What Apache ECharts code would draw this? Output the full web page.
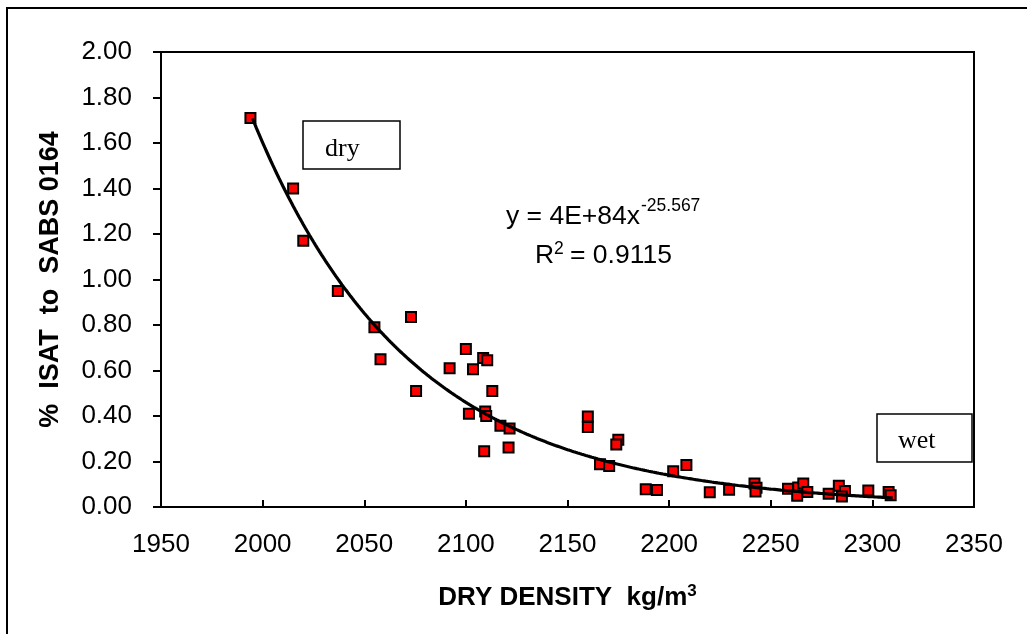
<!DOCTYPE html>
<html>
<head>
<meta charset="utf-8">
<title>ISAT vs Dry Density</title>
<script src="https://cdn.jsdelivr.net/npm/echarts@6/dist/echarts.min.js"></script>
<style>
  html, body { margin: 0; padding: 0; background: #ffffff; }
  #chart { width: 1027px; height: 634px; }
</style>
</head>
<body>
<div id="chart"></div>
<script>
// Measured dry density (kg/m3) and % ISAT to SABS 0164 for each sample
const densityValues = [
  1994, 2015, 2020, 2037, 2055, 2058, 2073, 2075.5, 2092, 2100,
  2103.5, 2108.5, 2110.5, 2113, 2101.5, 2109.5, 2110, 2109, 2117, 2121.5,
  2121, 2160, 2160, 2166, 2170.5, 2175, 2174, 2188.5, 2194, 2202,
  2208.5, 2220, 2229.5, 2242, 2243, 2242.5, 2258.5, 2263.5, 2266, 2263,
  2268, 2278.5, 2283.5, 2286.5, 2285, 2298, 2308, 2309
];
const isatValues = [
  1.71, 1.40, 1.17, 0.95, 0.79, 0.65, 0.835, 0.51, 0.61, 0.695,
  0.605, 0.655, 0.645, 0.51, 0.41, 0.42, 0.40, 0.245, 0.357, 0.345,
  0.262, 0.398, 0.352, 0.188, 0.18, 0.296, 0.275, 0.078, 0.075, 0.157,
  0.185, 0.065, 0.076, 0.103, 0.085, 0.068, 0.08, 0.086, 0.103, 0.05,
  0.066, 0.058, 0.093, 0.07, 0.046, 0.072, 0.066, 0.052
];

// Power trend line y = a * x^b as printed on the chart
const trendCoefficient = 4e84;
const trendExponent = -25.567;
const trendRSquared = 0.9115;
const trendStart = 1995;
const trendEnd = 2310;

// Axis tick settings
const xTicks = { min: 1950, max: 2350, step: 50 };
const yTicks = { min: 0, max: 2, step: 0.2 };

const scatterData = densityValues.map((d, i) => [d, isatValues[i]]);
const trendData = [];
for (let x = trendStart; x <= trendEnd; x += 1) {
  trendData.push([x, trendCoefficient * Math.pow(x, trendExponent)]);
}

const SANS = '"Liberation Sans", Arial, sans-serif';
const SERIF = '"Liberation Serif", "Times New Roman", serif';

const chart = echarts.init(document.getElementById('chart'), null, { renderer: 'canvas' });
chart.setOption({
  animation: false,
  backgroundColor: '#ffffff',
  grid: {
    left: 161, top: 52, right: 53, bottom: 127,
    show: true, borderColor: '#000', borderWidth: 2, backgroundColor: 'transparent'
  },
  xAxis: {
    type: 'value',
    min: xTicks.min, max: xTicks.max, interval: xTicks.step,
    name: '{t|DRY DENSITY  kg/m}{s|3}',
    nameLocation: 'middle',
    nameGap: 76,
    nameTextStyle: {
      rich: {
        t: { fontFamily: SANS, fontSize: 26, fontWeight: 'bold', color: '#000', lineHeight: 30 },
        s: { fontFamily: SANS, fontSize: 17, fontWeight: 'bold', color: '#000', verticalAlign: 'top', lineHeight: 16 }
      }
    },
    axisLine: { lineStyle: { color: '#000', width: 2 } },
    axisTick: { inside: true, length: 7, lineStyle: { color: '#000', width: 2 } },
    axisLabel: {
      fontFamily: SANS, fontSize: 26, color: '#000', margin: 25,
      formatter: v => String(v)
    },
    splitLine: { show: false }
  },
  yAxis: {
    type: 'value',
    min: yTicks.min, max: yTicks.max, interval: yTicks.step,
    name: '%  ISAT  to  SABS 0164',
    nameLocation: 'middle',
    nameGap: 97,
    nameRotate: 90,
    nameTextStyle: { fontFamily: SANS, fontSize: 27, fontWeight: 'bold', color: '#000' },
    axisLine: { lineStyle: { color: '#000', width: 2 } },
    axisTick: { inside: false, length: 8, lineStyle: { color: '#000', width: 2 } },
    axisLabel: {
      fontFamily: SANS, fontSize: 26, color: '#000', margin: 29,
      formatter: v => v.toFixed(2)
    },
    splitLine: { show: false }
  },
  series: [
    {
      name: 'samples',
      type: 'scatter',
      data: scatterData,
      symbol: 'rect',
      symbolSize: 10,
      itemStyle: { color: '#ff0000', borderColor: '#000', borderWidth: 2, opacity: 1 },
      z: 2
    },
    {
      name: 'power trend',
      type: 'line',
      data: trendData,
      showSymbol: false,
      smooth: false,
      lineStyle: { color: '#000', width: 3.2 },
      z: 3,
      silent: true
    }
  ],
  graphic: [
    // outer chart frame
    { type: 'rect', shape: { x: 7, y: 8, width: 1100, height: 700 },
      style: { fill: 'none', stroke: '#000', lineWidth: 2 }, z: 100 },
    // "dry" label box
    { type: 'rect', shape: { x: 303, y: 121, width: 97, height: 48 },
      style: { fill: '#fff', stroke: '#000', lineWidth: 1.5 }, z: 100 },
    { type: 'text', x: 325, y: 149, z: 101,
      style: { text: 'dry', font: '26px ' + SERIF, fill: '#000', verticalAlign: 'middle' } },
    // "wet" label box
    { type: 'rect', shape: { x: 877, y: 414, width: 95, height: 48 },
      style: { fill: '#fff', stroke: '#000', lineWidth: 1.5 }, z: 100 },
    { type: 'text', x: 898, y: 441, z: 101,
      style: { text: 'wet', font: '26px ' + SERIF, fill: '#000', verticalAlign: 'middle' } },
    // trend line equation
    { type: 'text', x: 506, y: 217, z: 101,
      style: { text: 'y = 4E+84x', font: '26.5px ' + SANS, fill: '#000', verticalAlign: 'middle' } },
    { type: 'text', x: 641, y: 206, z: 101,
      style: { text: String(trendExponent), font: '17.5px ' + SANS, fill: '#000', verticalAlign: 'middle' } },
    { type: 'text', x: 535, y: 256, z: 101,
      style: { text: 'R', font: '26.5px ' + SANS, fill: '#000', verticalAlign: 'middle' } },
    { type: 'text', x: 554, y: 249, z: 101,
      style: { text: '2', font: '17.5px ' + SANS, fill: '#000', verticalAlign: 'middle' } },
    { type: 'text', x: 570, y: 256, z: 101,
      style: { text: '= ' + trendRSquared.toFixed(4), font: '26.5px ' + SANS, fill: '#000', verticalAlign: 'middle' } }
  ]
});
</script>
</body>
</html>
